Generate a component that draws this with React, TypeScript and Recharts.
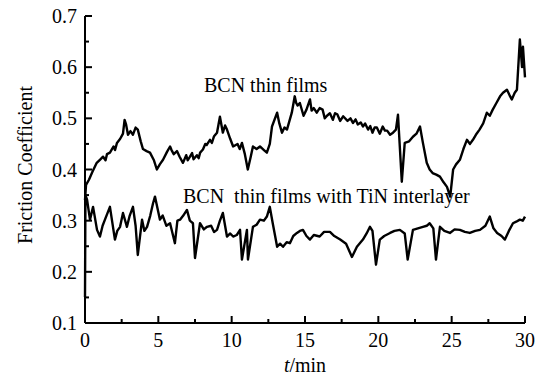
import { LineChart, Line, XAxis, YAxis } from 'recharts';

// BCN thin films
const tBcn = [0, 0.07, 0.27, 0.5, 0.8, 1.05, 1.23, 1.4, 1.5, 1.7, 1.95, 2.05, 2.18, 2.4, 2.59, 2.7, 2.8, 2.93, 3.1, 3.27, 3.45, 3.6, 3.8, 3.95, 4.2, 4.43, 4.7, 4.9, 5.1, 5.32, 5.6, 5.8, 5.9, 6.05, 6.27, 6.45, 6.68, 6.9, 7.0, 7.16, 7.3, 7.4, 7.63, 7.75, 7.85, 8.04, 8.2, 8.3, 8.52, 8.65, 8.8, 9.0, 9.2, 9.4, 9.55, 9.68, 9.9, 10.1, 10.4, 10.55, 10.7, 10.9, 11.1, 11.3, 11.45, 11.7, 11.93, 12.2, 12.4, 12.6, 12.75, 13.1, 13.25, 13.43, 13.6, 13.77, 14.1, 14.3, 14.4, 14.5, 14.65, 14.9, 15.1, 15.34, 15.45, 15.6, 15.8, 16.0, 16.2, 16.35, 16.5, 16.7, 16.9, 17.05, 17.2, 17.4, 17.6, 17.9, 18.1, 18.27, 18.45, 18.6, 18.8, 18.95, 19.1, 19.3, 19.45, 19.6, 19.75, 19.9, 20.1, 20.3, 20.45, 20.6, 20.8, 21.0, 21.2, 21.34, 21.6, 21.8, 22.1, 22.36, 22.6, 22.84, 23.04, 23.3, 23.5, 23.7, 23.95, 24.2, 24.45, 24.68, 24.9, 25.1, 25.3, 25.56, 25.8, 26.04, 26.25, 26.45, 26.7, 26.9, 27.15, 27.4, 27.6, 27.8, 28.05, 28.3, 28.5, 28.77, 28.95, 29.1, 29.3, 29.45, 29.65, 29.8, 29.86, 30];
const muBcn = [0.34, 0.37, 0.38, 0.395, 0.413, 0.42, 0.425, 0.418, 0.43, 0.433, 0.445, 0.438, 0.452, 0.46, 0.47, 0.497, 0.488, 0.468, 0.475, 0.468, 0.482, 0.478, 0.455, 0.44, 0.436, 0.433, 0.418, 0.4, 0.41, 0.419, 0.435, 0.445, 0.438, 0.43, 0.436, 0.425, 0.413, 0.428, 0.418, 0.425, 0.432, 0.42, 0.428, 0.422, 0.433, 0.439, 0.45, 0.448, 0.458, 0.452, 0.465, 0.472, 0.503, 0.472, 0.486, 0.478, 0.46, 0.445, 0.45, 0.44, 0.452, 0.43, 0.4, 0.425, 0.445, 0.44, 0.445, 0.438, 0.433, 0.45, 0.484, 0.511, 0.49, 0.472, 0.482, 0.478, 0.511, 0.543, 0.53, 0.525, 0.53, 0.505, 0.517, 0.537, 0.515, 0.52, 0.511, 0.52, 0.517, 0.5, 0.505, 0.51, 0.497, 0.51, 0.508, 0.495, 0.504, 0.495, 0.5, 0.491, 0.498, 0.488, 0.492, 0.484, 0.49, 0.478, 0.485, 0.472, 0.482, 0.482, 0.47, 0.484, 0.476, 0.476, 0.468, 0.472, 0.478, 0.507, 0.376, 0.452, 0.455, 0.464, 0.47, 0.484, 0.452, 0.413, 0.4, 0.393, 0.39, 0.386, 0.375, 0.366, 0.347, 0.4, 0.41, 0.419, 0.44, 0.458, 0.45, 0.458, 0.47, 0.478, 0.49, 0.511, 0.505, 0.517, 0.53, 0.543, 0.55, 0.556, 0.545, 0.537, 0.55, 0.556, 0.654, 0.6, 0.64, 0.58];

// BCN thin films with TiN interlayer
const tTin = [0, 0.03, 0.14, 0.34, 0.55, 0.82, 1.02, 1.2, 1.36, 1.7, 2.04, 2.2, 2.39, 2.59, 2.86, 3.05, 3.27, 3.45, 3.6, 3.89, 4.05, 4.23, 4.45, 4.64, 4.77, 5.11, 5.3, 5.55, 5.8, 6.13, 6.3, 6.48, 6.7, 6.95, 7.15, 7.36, 7.5, 7.84, 8.1, 8.32, 8.6, 8.8, 9.0, 9.2, 9.4, 9.68, 9.9, 10.1, 10.35, 10.57, 10.7, 11.04, 11.11, 11.45, 11.7, 11.93, 12.2, 12.4, 12.6, 12.8, 13.1, 13.3, 13.5, 13.75, 13.97, 14.2, 14.45, 14.65, 14.86, 15.1, 15.34, 15.6, 16.0, 16.3, 16.7, 17.0, 17.4, 17.8, 18.2, 18.54, 18.95, 19.2, 19.43, 19.6, 19.84, 20.1, 20.4, 20.8, 21.1, 21.47, 21.8, 22.0, 22.36, 22.7, 23.04, 23.3, 23.5, 23.75, 23.93, 24.2, 24.5, 24.88, 25.2, 25.56, 25.9, 26.24, 26.6, 26.93, 27.3, 27.6, 27.85, 28.1, 28.4, 28.63, 28.9, 29.18, 29.4, 29.65, 29.85, 30];
const muTin = [0.151, 0.35, 0.341, 0.302, 0.327, 0.282, 0.269, 0.29, 0.302, 0.327, 0.263, 0.28, 0.288, 0.315, 0.288, 0.31, 0.327, 0.29, 0.233, 0.302, 0.28, 0.288, 0.31, 0.334, 0.347, 0.302, 0.31, 0.29, 0.295, 0.256, 0.3, 0.302, 0.31, 0.321, 0.3, 0.295, 0.227, 0.295, 0.283, 0.288, 0.29, 0.278, 0.282, 0.3, 0.315, 0.269, 0.275, 0.269, 0.272, 0.282, 0.224, 0.282, 0.224, 0.288, 0.292, 0.302, 0.3, 0.308, 0.327, 0.295, 0.249, 0.255, 0.249, 0.258, 0.256, 0.27, 0.276, 0.28, 0.282, 0.27, 0.263, 0.272, 0.269, 0.278, 0.278, 0.27, 0.263, 0.255, 0.229, 0.249, 0.263, 0.275, 0.288, 0.28, 0.214, 0.263, 0.27, 0.276, 0.28, 0.282, 0.275, 0.224, 0.282, 0.285, 0.288, 0.29, 0.295, 0.285, 0.224, 0.288, 0.28, 0.276, 0.283, 0.282, 0.278, 0.276, 0.28, 0.282, 0.29, 0.308, 0.285, 0.276, 0.27, 0.263, 0.28, 0.295, 0.298, 0.302, 0.3, 0.308];

const xTicks = [0, 2.5, 5, 7.5, 10, 12.5, 15, 17.5, 20, 22.5, 25, 27.5, 30];
const yTicks = [0.1, 0.15, 0.2, 0.25, 0.3, 0.35, 0.4, 0.45, 0.5, 0.55, 0.6, 0.65, 0.7];

const bcnData = tBcn.map((t, i) => ({ t, mu: muBcn[i] }));
const tinData = tTin.map((t, i) => ({ t, mu: muTin[i] }));

const txt = { fontFamily: "'Liberation Serif', 'Times New Roman', serif", fontSize: 20, fill: '#000' };
const frame = { stroke: '#000', strokeWidth: 2 };

function XTick({ x, y, payload }: any) {
  const v = payload.value;
  const major = Math.abs(v % 5) < 1e-6;
  return (
    <g>
      <line x1={x} y1={y} x2={x} y2={y - (major ? 7 : 4)} stroke="#000" strokeWidth={2} />
      {major && (
        <text x={x} y={y + 24} textAnchor="middle" style={txt}>
          {v}
        </text>
      )}
    </g>
  );
}

function YTick({ x, y, payload }: any) {
  const v = payload.value;
  const major = Math.abs(Math.round(v * 10) - v * 10) < 1e-6;
  return (
    <g>
      <line x1={x} y1={y} x2={x + (major ? 7 : 4)} y2={y} stroke="#000" strokeWidth={2} />
      {major && (
        <text x={x - 8} y={y + 7} textAnchor="end" style={txt}>
          {v.toFixed(1)}
        </text>
      )}
    </g>
  );
}

export default function App() {
  return (
    <div style={{ position: 'absolute', left: 0, top: 0, width: 544, height: 376, background: '#fff' }}>
      <LineChart width={544} height={376} margin={{ top: 16, right: 19, bottom: 0, left: 0 }}>
        <XAxis
          dataKey="t"
          type="number"
          domain={[0, 30]}
          ticks={xTicks}
          interval={0}
          height={53}
          tickSize={0}
          tickMargin={0}
          tickLine={false}
          stroke="#000"
          axisLine={frame}
          tick={<XTick />}
        />
        <XAxis xAxisId="top" orientation="top" type="number" domain={[0, 30]} height={0} tick={false} tickLine={false} stroke="#000" axisLine={frame} />
        <YAxis
          type="number"
          domain={[0.1, 0.7]}
          ticks={yTicks}
          interval={0}
          width={85}
          tickSize={0}
          tickMargin={0}
          tickLine={false}
          stroke="#000"
          axisLine={frame}
          tick={<YTick />}
        />
        <YAxis yAxisId="right" orientation="right" type="number" domain={[0.1, 0.7]} width={0} tick={false} tickLine={false} stroke="#000" axisLine={frame} />
        <Line data={bcnData} dataKey="mu" type="linear" stroke="#000" strokeWidth={2.4} strokeLinejoin="round" dot={false} isAnimationActive={false} />
        <Line data={tinData} dataKey="mu" type="linear" stroke="#000" strokeWidth={2.4} strokeLinejoin="round" dot={false} isAnimationActive={false} />
      </LineChart>
      <svg width={544} height={376} style={{ position: 'absolute', left: 0, top: 0, pointerEvents: 'none' }}>
        <text x={204} y={92} style={txt}>BCN thin films</text>
        <text x={183} y={203} style={{ ...txt, whiteSpace: 'pre' }}>
          BCN  thin films with TiN interlayer
        </text>
        <text x={32} y={165} textAnchor="middle" transform="rotate(-90 32 165)" style={txt}>
          Friction Coefficient
        </text>
        <text x={305} y={372} textAnchor="middle" style={txt}>
          <tspan fontStyle="italic">t</tspan>/min
        </text>
      </svg>
    </div>
  );
}
